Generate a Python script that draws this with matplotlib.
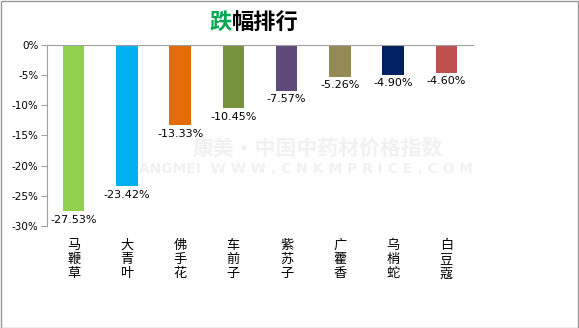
import matplotlib
matplotlib.use("Agg")
import matplotlib.pyplot as plt
from matplotlib.patches import Rectangle

plt.rcParams['font.family'] = ['Noto Sans CJK SC', 'DejaVu Sans']

categories = ["马鞭草", "大青叶", "佛手花", "车前子", "紫苏子", "广藿香", "乌梢蛇", "白豆蔻"]
values = [-27.53, -23.42, -13.33, -10.45, -7.57, -5.26, -4.90, -4.60]
colors = ["#92D050", "#00B0F0", "#E36C09", "#77933C", "#604A7B", "#948A54", "#002060", "#C0504D"]
yticks = [0, -5, -10, -15, -20, -25, -30]

fig = plt.figure(figsize=(5.79, 3.28), dpi=100)
ax = fig.add_axes([47/579, 1-226/328, (473-47)/579, (226-45)/328])

# watermark (behind bars)
ax.text(318/579, 1-148/328, "康美·中国中药材价格指数", ha="center", va="center",
        fontsize=15, fontweight="bold", color="#f1f1f1", zorder=0.5,
        transform=fig.transFigure, clip_on=False)
ax.text(300/579, 1-169/328, "KANGMEI  W W W . C N K M P R I C E . C O M", ha="center", va="center",
        fontsize=10, fontweight="bold", color="#f1f1f1", zorder=0.5, family=['DejaVu Sans'],
        transform=fig.transFigure, clip_on=False)

x = list(range(len(categories)))
ax.bar(x, values, width=0.4, color=colors, zorder=2)
ax.set_xlim(-0.5, len(categories)-0.5)
ax.set_ylim(-30, 0)

for xi, v in zip(x, values):
    ax.annotate(f"{v:.2f}%", (xi, v), xytext=(0, -2.5), textcoords="offset points",
                ha="center", va="top", fontsize=8, family=['DejaVu Sans'], zorder=3)

ax.set_yticks(yticks)
ax.set_yticklabels([f"{t}%" for t in yticks], fontsize=7.5, family=['DejaVu Sans'])
ax.tick_params(axis='y', length=4, color='#a0a0a0', pad=2)
ax.set_xticks([])
for s in ['right', 'bottom']:
    ax.spines[s].set_visible(False)
ax.spines['left'].set_color('#a0a0a0')
ax.spines['top'].set_color('#a0a0a0')

# vertical category labels
for xi, c in zip(x, categories):
    ax.text(xi, -30 - 13/6.033, "\n".join(c), ha="center", va="top",
            fontsize=9.5, linespacing=1.12, clip_on=False)

# title
fig.text(232/579, 1-22/328, "跌", ha="right", va="center", fontsize=16, color="#00A650",
         fontweight="bold")
fig.text(232/579, 1-22/328, "幅排行", ha="left", va="center", fontsize=16, color="black",
         fontweight="bold")

fig.patches.append(Rectangle((0.5/579, 0.5/328), 1-1.5/579, 1-1.5/328, transform=fig.transFigure,
                             fill=False, edgecolor="#999999", linewidth=1))

fig.savefig("out.png", dpi=100)
